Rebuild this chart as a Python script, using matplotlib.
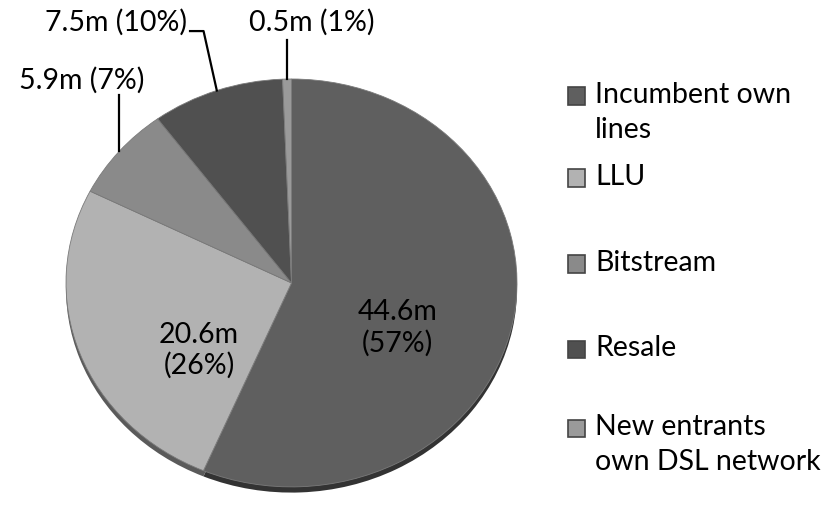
import numpy as np
import matplotlib
matplotlib.use('Agg')
from matplotlib import pyplot as plt
from matplotlib.patches import Rectangle

plt.rcParams['font.family'] = ['Lato', 'DejaVu Sans']

# data (millions of lines)
labels = ['Incumbent own\nlines', 'LLU', 'Bitstream', 'Resale', 'New entrants\nown DSL network']
values = [44.6, 20.6, 5.9, 7.5, 0.5]
pct_text = ['57%', '26%', '7%', '10%', '1%']
colors = ['#5f5f5f', '#b2b2b2', '#8a8a8a', '#505050', '#9a9a9a']
shadow = ['#333333', '#5a5a5a', '#474747', '#2e2e2e', '#4d4d4d']

W, H = 836, 518
fig = plt.figure(figsize=(W / 100, H / 100), dpi=100)

def fx(px):
    return px / W

def fy(py):
    return 1 - py / H

# ellipse bounding box in pixels (3D-looking tilted pie)
left, right, top, bottom = 66, 517, 79, 493
ax = fig.add_axes([fx(left), fy(bottom), fx(right - left), (bottom - top) / H])

# dark rim for the 3D thickness
ax.pie(values, colors=shadow, startangle=90, counterclock=False,
       center=(0, -0.028), wedgeprops=dict(linewidth=0))
wedges, _ = ax.pie(values, colors=colors, startangle=90, counterclock=False,
                   wedgeprops=dict(linewidth=0.6, edgecolor='#7a7a7a'))
ax.set_aspect('auto')
ax.set_xlim(-1, 1)
ax.set_ylim(-1.03, 1)
ax.axis('off')

fs = 20.5
# inside labels
ax.text(0.47, -0.22, f'{values[0]}m\n({pct_text[0]})', ha='center', va='center',
        fontsize=fs, linespacing=1.2)
ax.text(-0.41, -0.33, f'{values[1]}m\n({pct_text[1]})', ha='center', va='center',
        fontsize=fs, linespacing=1.2)

# outside labels with leader lines
mids = []
for w in wedges:
    mids.append(np.deg2rad((w.theta1 + w.theta2) / 2))

# Bitstream
a = mids[2]
ax.plot([np.cos(a), np.cos(a)], [np.sin(a), 0.92], color='black', lw=1.6, clip_on=False)
ax.text(-0.93, 0.995, f'{values[2]}m ({pct_text[2]})', ha='center', va='center',
        fontsize=fs, clip_on=False)

# Resale
a = mids[3]
ax.plot([np.cos(a), -0.39, -0.45], [np.sin(a), 1.235, 1.235], color='black', lw=1.6,
        clip_on=False)
ax.text(-0.465, 1.28, f'{values[3]}m ({pct_text[3]})', ha='right', va='center',
        fontsize=fs, clip_on=False)

# New entrants
a = mids[4]
ax.plot([np.cos(a), np.cos(a)], [np.sin(a), 1.19], color='black', lw=1.6, clip_on=False)
ax.text(0.09, 1.28, f'{values[4]}m ({pct_text[4]})', ha='center', va='center',
        fontsize=fs, clip_on=False)

# legend drawn by hand so multi-line entries line up like the original
box_y = [96, 178, 264, 349, 428]
for lab, col, yy in zip(labels, colors, box_y):
    fig.patches.append(Rectangle((fx(568), fy(yy + 8.5)), fx(17), 17 / H,
                                 transform=fig.transFigure, facecolor=col,
                                 edgecolor='#444444', linewidth=1.2))
    fig.text(fx(595), fy(yy - 14), lab, ha='left', va='top', fontsize=fs,
             linespacing=1.42)

fig.savefig('out.png', dpi=100)
